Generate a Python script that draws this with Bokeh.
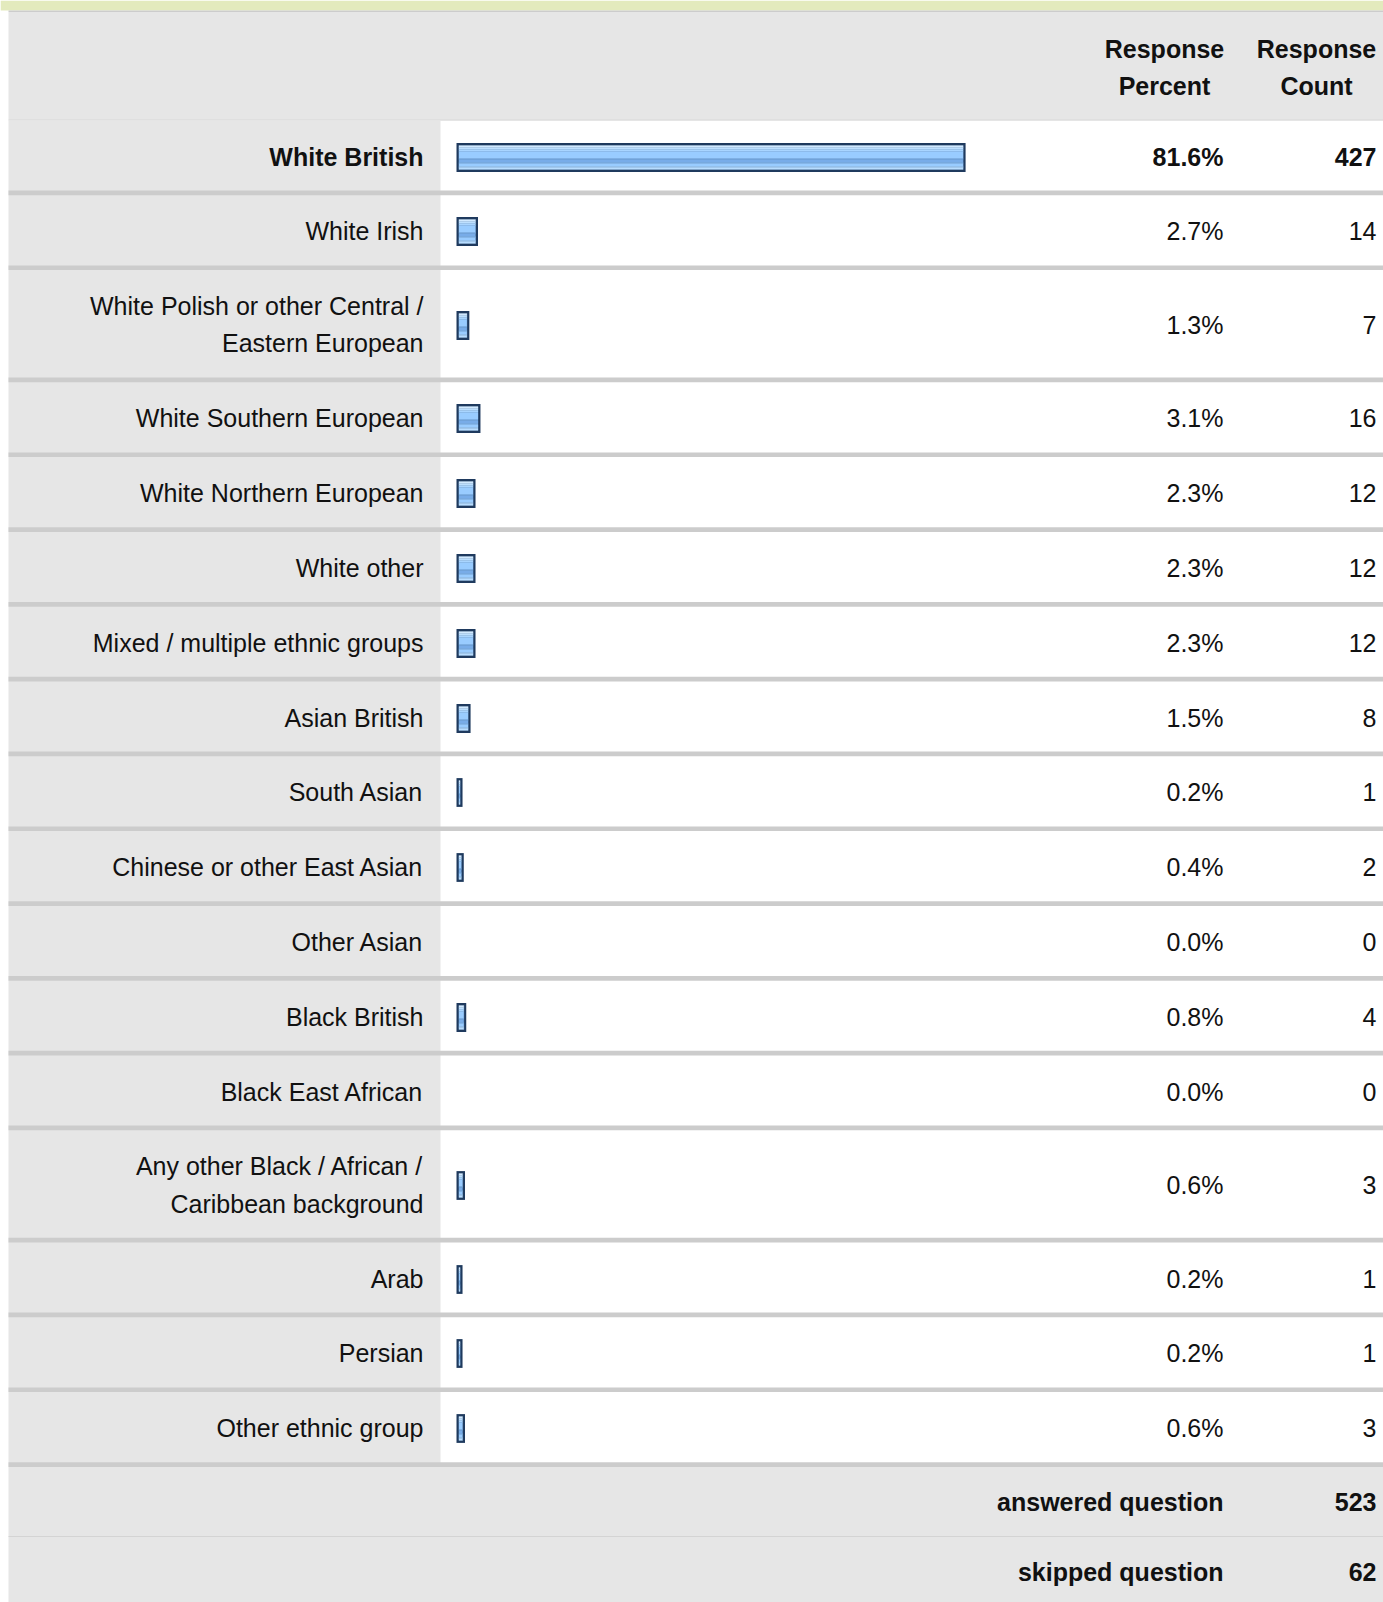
import textwrap
from bokeh.plotting import figure
from bokeh.models import Range1d, ColumnDataSource
from bokeh.core.properties import value
from bokeh.embed import file_html
from bokeh.resources import INLINE

# ---------------- data ----------------
categories = [
    "White British",
    "White Irish",
    "White Polish or other Central / Eastern European",
    "White Southern European",
    "White Northern European",
    "White other",
    "Mixed / multiple ethnic groups",
    "Asian British",
    "South Asian",
    "Chinese or other East Asian",
    "Other Asian",
    "Black British",
    "Black East African",
    "Any other Black / African / Caribbean background",
    "Arab",
    "Persian",
    "Other ethnic group",
]
percents = [81.6, 2.7, 1.3, 3.1, 2.3, 2.3, 2.3, 1.5, 0.2, 0.4, 0.0, 0.8, 0.0, 0.6, 0.2, 0.2, 0.6]
counts = [427, 14, 7, 16, 12, 12, 12, 8, 1, 2, 0, 4, 0, 3, 1, 1, 3]
header_percent = "Response\nPercent"
header_count = "Response\nCount"
summary_labels = ["answered question", "skipped question"]
summary_values = [523, 62]

# ---------------- layout / style ----------------
W, H = 1383, 1602
FONT = value("Liberation Sans")
FS = "25px"
LH = 1.33
TXT = "#111111"
GRAY = "#e6e6e6"
SEP = "#cccccc"
BAND = "#e3eabd"
DARK = "#1f3a5e"
BASE = "#99ccff"
LABEL_COL_L = 8
LABEL_COL_R = 440
LABEL_X = 423
PCT_X = 1223
CNT_X = 1376
HDR_PCT_X = 1164
HDR_CNT_X = 1316
SINGLE_H = 70.1
LINE_EXTRA = 37.4
SEP_H = 4.7
FIRST_TOP = 120.0
BAR_X0 = 458.4
PX_PER_PCT = 6.18
BAR_HALF = 12

p = figure(width=W, height=H, x_range=Range1d(0, W), y_range=Range1d(H, 0),
           output_backend="svg", toolbar_location=None, min_border=0)
p.axis.visible = False
p.grid.visible = False
p.outline_line_color = None
p.background_fill_color = "white"
p.border_fill_color = "white"
p.extra_x_ranges = {"pct": Range1d(-BAR_X0 / PX_PER_PCT, (W - BAR_X0) / PX_PER_PCT)}

# row geometry
wrapped = ["\n".join(textwrap.wrap(c, 31)) for c in categories]
tops, bots = [], []
t = FIRST_TOP
for w in wrapped:
    h = SINGLE_H + LINE_EXTRA * (w.count("\n"))
    tops.append(t)
    bots.append(t + h)
    t += h + SEP_H
foot_top = t
ans_bot = foot_top + 69
skip_top = ans_bot + 1
skip_bot = skip_top + 69
centers = [(a + b) / 2 for a, b in zip(tops, bots)]

# backgrounds
p.quad(left=0, right=W, top=0, bottom=10, fill_color=BAND, line_color=None)
p.quad(left=LABEL_COL_L, right=W, top=10, bottom=11.5, fill_color=SEP, line_color=None)
p.quad(left=LABEL_COL_L, right=W, top=11.5, bottom=119, fill_color=GRAY, line_color=None)
p.quad(left=LABEL_COL_L, right=W, top=119, bottom=120, fill_color=SEP, line_color=None)
p.quad(left=LABEL_COL_L, right=LABEL_COL_R, top=FIRST_TOP, bottom=foot_top, fill_color=GRAY, line_color=None)
p.quad(left=LABEL_COL_L, right=W, top=foot_top, bottom=H, fill_color=GRAY, line_color=None)
p.quad(left=LABEL_COL_L, right=W, top=ans_bot, bottom=skip_top, fill_color="#d4d4d4", line_color=None)
sep_src = ColumnDataSource(dict(t=bots, b=[b + SEP_H for b in bots]))
p.quad(left=LABEL_COL_L, right=W, top="t", bottom="b", source=sep_src, fill_color=SEP, line_color=None)

# bars
idx = [i for i, v in enumerate(percents) if v > 0]
yc = [round(centers[i] + 1.6) for i in idx]
border_src = ColumnDataSource(dict(
    left=[0] * len(idx), right=[percents[i] for i in idx],
    t=[y - BAR_HALF for y in yc], b=[y + BAR_HALF for y in yc]))
p.quad(left="left", right="right", top="t", bottom="b", source=border_src,
       x_range_name="pct", fill_color=DARK, line_color=DARK, line_width=4.8,
       line_join="miter")
stripes = [(0, 2, "#d2eaff"), (2, 4, "#bde0ff"), (4, 6, "#a9d5ff"), (6, 13, BASE),
           (13, 14, "#89bdf4"), (14, 17, "#78ace8"), (17, 18, "#89bdf4"),
           (18, 21, BASE), (21, 22, "#a9d5ff"), (22, 24, "#b8ddff")]
for a, b, col in stripes:
    s = ColumnDataSource(dict(
        left=[0] * len(idx), right=[percents[i] for i in idx],
        t=[y - BAR_HALF + a for y in yc], b=[y - BAR_HALF + b for y in yc]))
    p.quad(left="left", right="right", top="t", bottom="b", source=s,
           x_range_name="pct", fill_color=col, line_color=col, line_width=0.3)

# texts
top_count = max(counts)
styles = ["bold" if c == top_count else "normal" for c in counts]
txt_src = ColumnDataSource(dict(
    y=[c + 1 for c in centers], label=wrapped,
    pct=[f"{v:.1f}%" for v in percents], cnt=[str(c) for c in counts],
    style=styles))
common = dict(text_font=FONT, text_font_size=FS, text_color=TXT,
              text_baseline="middle", text_line_height=LH)
p.text(x=LABEL_X, y="y", text="label", source=txt_src, text_align="right",
       text_font_style="style", **common)
p.text(x=PCT_X, y="y", text="pct", source=txt_src, text_align="right",
       text_font_style="style", **common)
p.text(x=CNT_X, y="y", text="cnt", source=txt_src, text_align="right",
       text_font_style="style", **common)

# header
p.text(x=[HDR_PCT_X, HDR_CNT_X], y=[67, 67], text=[header_percent, header_count],
       text_align="center", text_font_style="bold", **common)

# summary
sum_y = [(foot_top + ans_bot) / 2 + 1, (skip_top + skip_bot) / 2 + 1]
p.text(x=[PCT_X, PCT_X], y=sum_y, text=summary_labels, text_align="right",
       text_font_style="bold", **common)
p.text(x=[CNT_X, CNT_X], y=sum_y, text=[str(v) for v in summary_values],
       text_align="right", text_font_style="bold", **common)

open("out.html", "w").write(file_html(p, INLINE))
